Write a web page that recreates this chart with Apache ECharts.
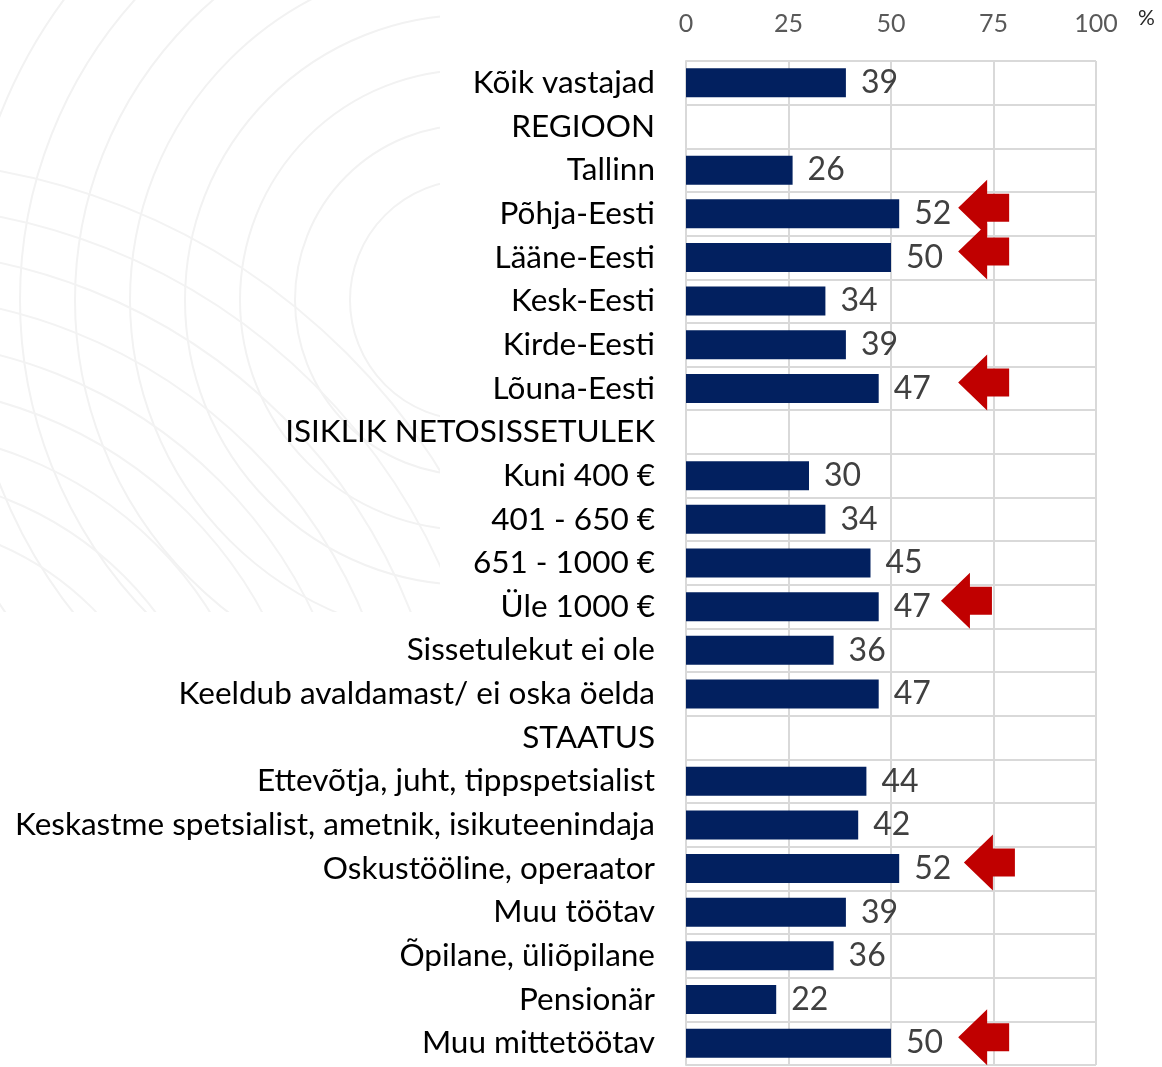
<!DOCTYPE html>
<html><head><meta charset="utf-8">
<script src="https://cdn.jsdelivr.net/npm/echarts@6/dist/echarts.min.js"></script>
<style>html,body{margin:0;padding:0;background:#fff}#c{width:1162px;height:1067px}</style>
</head><body><div id="c"></div>
<script>
var categories = ["Kõik vastajad","REGIOON","Tallinn","Põhja-Eesti","Lääne-Eesti","Kesk-Eesti","Kirde-Eesti","Lõuna-Eesti","ISIKLIK NETOSISSETULEK","Kuni 400 €","401 - 650 €","651 - 1000 €","Üle 1000 €","Sissetulekut ei ole","Keeldub avaldamast/ ei oska öelda","STAATUS","Ettevõtja, juht, tippspetsialist","Keskastme spetsialist, ametnik, isikuteenindaja","Oskustööline, operaator","Muu töötav","Õpilane, üliõpilane","Pensionär","Muu mittetöötav"];
var values = [39,null,26,52,50,34,39,47,null,30,34,45,47,36,47,null,44,42,52,39,36,22,50];
var arrowRows = ["Põhja-Eesti","Lääne-Eesti","Lõuna-Eesti","Üle 1000 €","Oskustööline, operaator","Muu mittetöötav"];
var arrowPos = [72.6,72.6,72.6,68.4,74,72.6];
var xTicks = [0,25,50,75,100];

var FONT = "Lato";
var chart = echarts.init(document.getElementById('c'), null, {renderer:'canvas'});

// decorative faint arcs
var deco = [];
var i;
for (i = 0; i < 9; i++) {
  deco.push({type:'circle', z:-10, silent:true, shape:{cx:470, cy:300, r:120 + i*55}, style:{fill:'none', stroke:'#f2f2f2', lineWidth:2}});
}
for (i = 0; i < 9; i++) {
  deco.push({type:'circle', z:-10, silent:true, shape:{cx:-120, cy:820, r:300 + i*45}, style:{fill:'none', stroke:'#f3f3f3', lineWidth:2}});
}
deco.push({type:'rect', z:-5, silent:true, shape:{x:440, y:0, width:800, height:1100}, style:{fill:'#fff'}});
deco.push({type:'rect', z:-5, silent:true, shape:{x:0, y:612, width:800, height:600}, style:{fill:'#fff'}});
deco.push({type:'text', z:10, left:1138, top:8, style:{text:'%', fontSize:21, fontFamily:FONT, fill:'#262626'}});

var arrowData = arrowRows.map(function(r, k){ return [arrowPos[k], r]; });

chart.setOption({
  animation:false,
  backgroundColor:'transparent',
  graphic: deco,
  grid:{left:686, right:66, top:61, bottom:2, containLabel:false},
  xAxis:{
    type:'value', position:'top', min:0, max:100, interval:25,
    axisLine:{show:false}, axisTick:{show:false},
    axisLabel:{fontSize:25, fontFamily:FONT, color:'#595959', margin:25,
      formatter:function(v){ return xTicks.indexOf(v) >= 0 ? String(v) : ''; }},
    splitLine:{show:true, lineStyle:{color:'#d9d9d9', width:2}}
  },
  yAxis:{
    type:'category', data:categories, inverse:true,
    axisLine:{show:true, lineStyle:{color:'#d9d9d9', width:2}},
    axisTick:{show:false},
    axisLabel:{fontSize:31.5, fontFamily:FONT, color:'#000', margin:31},
    splitLine:{show:true, lineStyle:{color:'#d9d9d9', width:2}}
  },
  series:[{
    type:'bar', data:values, barWidth:29,
    itemStyle:{color:'#02205f'},
    label:{show:true, position:'right', distance:15, fontSize:32, fontFamily:FONT, color:'#404040'}
  },{
    type:'scatter', data:arrowData,
    symbol:'path://M0,28 L29,0 L29,14 L51,14 L51,42 L29,42 L29,56 Z',
    symbolSize:[51,56], symbolOffset:[0,-6], symbolKeepAspect:false,
    itemStyle:{color:'#c00000', opacity:1}, z:5
  }]
});
</script></body></html>
